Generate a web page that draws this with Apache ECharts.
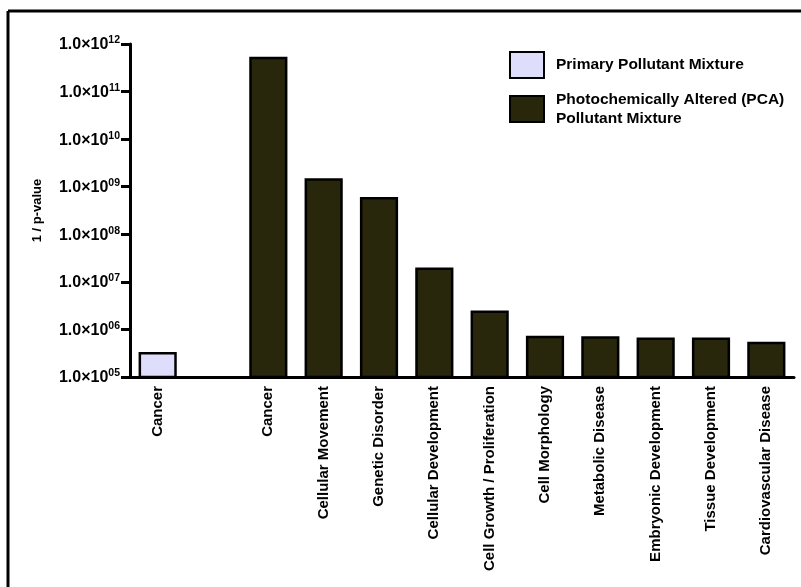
<!DOCTYPE html>
<html>
<head>
<meta charset="utf-8">
<script src="https://cdn.jsdelivr.net/npm/echarts@6/dist/echarts.min.js"></script>
<style>
  html, body { margin: 0; padding: 0; background: #ffffff; }
  #chart { width: 801px; height: 587px; }
</style>
</head>
<body>
<div id="chart"></div>
<script>
// Functional categories (an empty slot separates the two mixtures)
var categories = [
  'Cancer', '',
  'Cancer', 'Cellular Movement', 'Genetic Disorder', 'Cellular Development',
  'Cell Growth / Proliferation', 'Cell Morphology', 'Metabolic Disease',
  'Embryonic Development', 'Tissue Development', 'Cardiovascular Disease'
];

var primaryName = 'Primary Pollutant Mixture';
var pcaName = 'Photochemically Altered (PCA)\nPollutant Mixture';

// 1 / p-value for each category
var primaryValues = [3.35e5, '-', '-', '-', '-', '-', '-', '-', '-', '-', '-', '-'];
var pcaValues = ['-', '-', 5.4e11, 1.5e9, 6.1e8, 2.0e7, 2.5e6, 7.4e5, 7.2e5, 6.8e5, 6.8e5, 5.5e5];

// Exponents shown on the value axis
var tickExponents = ['05', '06', '07', '08', '09', '10', '11', '12'];

var FONT = '"Liberation Sans", Arial, sans-serif';

var chart = echarts.init(document.getElementById('chart'), null, { renderer: 'canvas' });

chart.setOption({
  backgroundColor: '#ffffff',
  animation: false,
  textStyle: { fontFamily: FONT, color: '#000' },
  graphic: [
    { type: 'line', shape: { x1: 8, y1: 11, x2: 801, y2: 11 }, style: { stroke: '#000', lineWidth: 3 } },
    { type: 'line', shape: { x1: 8, y1: 11, x2: 8, y2: 587 }, style: { stroke: '#000', lineWidth: 3 } }
  ],
  grid: { left: 130, right: 7, top: 44, bottom: 210, containLabel: false, outerBoundsMode: 'none' },
  legend: {
    orient: 'vertical',
    left: 509,
    top: 51,
    padding: 0,
    itemWidth: 34,
    itemHeight: 26,
    itemGap: 11,
    icon: 'rect',
    data: [primaryName, pcaName],
    textStyle: {
      fontFamily: FONT, fontSize: 15.5, fontWeight: 'bold', color: '#000',
      lineHeight: 19, padding: [0, 0, 0, 7]
    }
  },
  xAxis: {
    type: 'category',
    data: categories,
    boundaryGap: true,
    axisLine: { onZero: false, lineStyle: { color: '#000', width: 3 } },
    axisTick: {
      alignWithLabel: true,
      length: 7,
      lineStyle: { color: '#000', width: 3 },
      interval: function (idx, val) { return val !== ''; }
    },
    axisLabel: {
      interval: 0,
      rotate: 90,
      margin: 9,
      fontFamily: FONT,
      fontSize: 15,
      fontWeight: 'bold',
      color: '#000'
    },
    splitLine: { show: false }
  },
  yAxis: {
    type: 'log',
    logBase: 10,
    min: 1e5,
    max: 1e12,
    interval: 1,
    name: '1 / p-value',
    nameLocation: 'middle',
    nameGap: 86,
    nameTextStyle: { fontFamily: FONT, fontSize: 13, fontWeight: 'bold', color: '#000' },
    axisLine: { show: true, lineStyle: { color: '#000', width: 3 } },
    axisTick: { show: true, length: 9, lineStyle: { color: '#000', width: 3 } },
    splitLine: { show: false },
    axisLabel: {
      margin: 10,
      formatter: function (v) {
        var e = Math.round(Math.log10(v));
        var idx = e - 5;
        var sup = tickExponents[idx] !== undefined ? tickExponents[idx] : String(e);
        return '{m|1.0×10}{s|' + sup + '}';
      },
      rich: {
        m: { fontFamily: FONT, fontSize: 16, fontWeight: 'bold', color: '#000', lineHeight: 18, verticalAlign: 'bottom' },
        s: { fontFamily: FONT, fontSize: 10.5, fontWeight: 'bold', color: '#000', lineHeight: 12, verticalAlign: 'top' }
      }
    }
  },
  series: [
    {
      name: primaryName,
      type: 'bar',
      data: primaryValues,
      barWidth: '69%',
      barGap: '-100%',
      clip: true,
      itemStyle: { color: '#dedefc', borderColor: '#000', borderWidth: 2.5 }
    },
    {
      name: pcaName,
      type: 'bar',
      data: pcaValues,
      barWidth: '69%',
      barGap: '-100%',
      clip: true,
      itemStyle: { color: '#28260b', borderColor: '#000', borderWidth: 2.5 }
    }
  ]
});
</script>
</body>
</html>
